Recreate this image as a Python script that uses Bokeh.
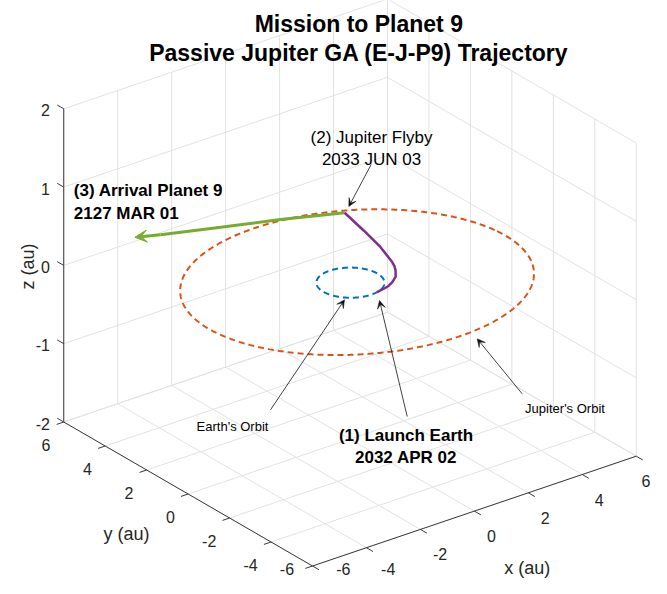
import numpy as np
from bokeh.plotting import figure
from bokeh.models import Range1d, Arrow, VeeHead
from bokeh.core.properties import value
from bokeh.embed import file_html
from bokeh.resources import INLINE

# ---------------- data (au) ----------------
x_ticks = [-6, -4, -2, 0, 2, 4, 6]
y_ticks = [-6, -4, -2, 0, 2, 4, 6]
z_ticks = [-2, -1, 0, 1, 2]
x_lim = (-6, 6)
y_lim = (-6, 6)
z_lim = (-2, 2)

# orbital elements: a [au], e, inclination [deg], node [deg], perihelion longitude [deg]
earth_orbit = dict(a=1.0, e=0.0167, incl=0.0, node=0.0, peri=102.9)
jupiter_orbit = dict(a=5.2, e=0.04, incl=1.5, node=198.0, peri=142.0)

# Earth -> Jupiter transfer arc (launch ... flyby)
transfer_x = [0.24, 0.54, 0.76, 1.00, 1.31, 1.55, 1.69, 1.81, 2.14, 2.42, 2.69]
transfer_y = [-0.99, -0.93, -0.87, -0.74, -0.50, -0.18, 0.05, 0.32, 1.31, 2.49, 3.76]
transfer_z = [0.0] * 11

# Jupiter -> Planet 9 departure leg (flyby ... direction of arrival)
depart_x = [2.69, 0.92, -0.79, -2.50, -3.20]
depart_y = [3.76, 4.55, 5.21, 5.88, 6.21]
depart_z = [0.0] * 5

title_lines = ["Mission to Planet 9", "Passive Jupiter GA (E-J-P9) Trajectory"]

# ---------------- camera (screen layout of the axes box, in pixels) ----------------
ORIGIN = (349.5, 282.0)
EX = (26.98, -9.15)
EY = (-20.73, -12.0)
EZ = (0.0, -78.3)

W, H = 651, 578


def proj(x, y, z):
    x = np.asarray(x, float); y = np.asarray(y, float); z = np.asarray(z, float)
    X = ORIGIN[0] + x * EX[0] + y * EY[0] + z * EZ[0]
    Y = ORIGIN[1] + x * EX[1] + y * EY[1] + z * EZ[1]
    return X, Y


def orbit_xyz(a, e, incl, node, peri, n=721):
    th = np.radians(np.linspace(0, 360, n))
    r = a * (1 - e ** 2) / (1 + e * np.cos(th - np.radians(peri)))
    x = r * np.cos(th)
    y = r * np.sin(th)
    z = r * np.tan(np.radians(incl)) * np.sin(th - np.radians(node))
    return x, y, z


FONT = "Liberation Sans"
TXT = "#262626"
GRID = "#e2e2e2"
AXC = "#3a3a3a"
BLUE = "#0072BD"
ORANGE = "#D95319"
PURPLE = "#7E2F8E"
GREEN = "#77AC30"

p = figure(width=W, height=H, x_range=Range1d(0, W), y_range=Range1d(H, 0),
           output_backend="svg", toolbar_location=None, min_border=0,
           x_axis_location=None, y_axis_location=None)
p.outline_line_color = None
p.background_fill_color = "white"
p.border_fill_color = "white"
for g in p.grid:
    g.visible = False

# ---------------- grid on floor and back walls ----------------
segs = []
x0, x1 = x_lim; y0, y1 = y_lim; z0, z1 = z_lim
for xv in x_ticks:
    segs.append(((xv, y0, z0), (xv, y1, z0)))
    segs.append(((xv, y1, z0), (xv, y1, z1)))
for yv in y_ticks:
    segs.append(((x0, yv, z0), (x1, yv, z0)))
    segs.append(((x1, yv, z0), (x1, yv, z1)))
for zv in z_ticks:
    segs.append(((x0, y1, zv), (x1, y1, zv)))
    segs.append(((x1, y0, zv), (x1, y1, zv)))
xs, ys = [], []
for a, b in segs:
    X, Y = proj([a[0], b[0]], [a[1], b[1]], [a[2], b[2]])
    xs.append(list(X)); ys.append(list(Y))
p.multi_line(xs, ys, line_color=GRID, line_width=1)

# ---------------- axis lines ----------------
axes = [((x0, y0, z0), (x1, y0, z0)), ((x0, y0, z0), (x0, y1, z0)), ((x0, y1, z0), (x0, y1, z1))]
xs, ys = [], []
for a, b in axes:
    X, Y = proj([a[0], b[0]], [a[1], b[1]], [a[2], b[2]])
    xs.append(list(X)); ys.append(list(Y))
p.multi_line(xs, ys, line_color=AXC, line_width=1)


def unit(v):
    v = np.asarray(v, float)
    return v / np.hypot(*v)


TL = 7.5
ux = unit((-EY[0], -EY[1]))   # x ticks point toward -y
uy = unit((-EX[0], -EX[1]))   # y ticks point toward -x
uz = unit(EY)                 # z ticks point toward +y
txs, tys = [], []
for xv in x_ticks:
    X, Y = proj(xv, y0, z0)
    txs.append([float(X), float(X + TL * ux[0])]); tys.append([float(Y), float(Y + TL * ux[1])])
for yv in y_ticks:
    X, Y = proj(x0, yv, z0)
    txs.append([float(X), float(X + TL * uy[0])]); tys.append([float(Y), float(Y + TL * uy[1])])
for zv in z_ticks:
    X, Y = proj(x0, y1, zv)
    txs.append([float(X), float(X + TL * uz[0])]); tys.append([float(Y), float(Y + TL * uz[1])])
p.multi_line(txs, tys, line_color=AXC, line_width=1)


def label(x, y, txt, size, align="center", bold=False, color=TXT, angle=0.0, baseline="alphabetic"):
    p.text(x=[x], y=[y], text=[txt], text_font=value(FONT), text_font_size=value(f"{size}px"),
           text_font_style=value("bold" if bold else "normal"), text_align=value(align),
           text_baseline=value(baseline), text_color=value(color), angle=angle)


LOW = 568.0  # lowest baseline that keeps a tick label clear of the canvas edge

# x tick labels (left-aligned below-right of the axis)
for xv in x_ticks:
    X, Y = proj(xv, y0, z0)
    bx, by = float(X) + 12.5, float(Y) + 25.0
    if by > LOW:
        bx += (by - LOW) * 0.5   # keep the lifted label clear of the x-axis line
        by = LOW
    label(min(bx, W - 10.0), by, f"{xv}", 16, align="left")
# y tick labels (right-aligned below-left of the axis)
for yv in y_ticks:
    X, Y = proj(x0, yv, z0)
    bx, by = float(X) - 13.3, float(Y) + 23.2
    if by > LOW:
        bx -= (by - LOW) * 0.25
        by = LOW
    label(bx, by, f"{yv}", 16, align="right")
# z tick labels
for zv in z_ticks:
    X, Y = proj(x0, y1, zv)
    label(49.5, float(Y) + 1.5, f"{zv}", 16, align="right")

# axis titles
label(526.7, 567.0, "x (au)", 18)
label(126.0, 533.5, "y (au)", 18)
label(27.5, 266.0, "z (au)", 18, angle=np.pi / 2)

# ---------------- orbits and trajectory ----------------
ex_, ey_, ez_ = orbit_xyz(**earth_orbit)
X, Y = proj(ex_, ey_, ez_)
p.line(X, Y, line_color=BLUE, line_width=2, line_dash="6 4")

jx, jy, jz = orbit_xyz(**jupiter_orbit)
X, Y = proj(jx, jy, jz)
p.line(X, Y, line_color=ORANGE, line_width=2, line_dash="6 4")

X, Y = proj(depart_x, depart_y, depart_z)
p.line(X[:-1], Y[:-1], line_color=GREEN, line_width=3)
p.add_layout(Arrow(x_start=float(X[-2]), y_start=float(Y[-2]), x_end=float(X[-1]), y_end=float(Y[-1]),
                   line_color=GREEN, line_width=3,
                   end=VeeHead(size=12, fill_color=GREEN, line_color=GREEN, line_width=1)))

X, Y = proj(transfer_x, transfer_y, transfer_z)
p.line(X, Y, line_color=PURPLE, line_width=2.5)


# ---------------- annotations ----------------
def pointer(xs_, ys_, xe, ye):
    p.add_layout(Arrow(x_start=xs_, y_start=ys_, x_end=xe, y_end=ye, line_color="#111111", line_width=0.8,
                       end=VeeHead(size=8, fill_color="#111111", line_color="#111111", line_width=0.5)))


pointer(370.7, 164.0, 348.3, 206.0)
pointer(270.0, 409.3, 344.0, 299.3)
pointer(406.7, 416.0, 379.0, 300.0)
pointer(521.7, 393.3, 476.7, 338.3)

label(371.0, 137.0, "(2) Jupiter Flyby", 17, color="black")
label(371.0, 159.0, "2033 JUN 03", 17, color="black")
label(73.3, 190.0, "(3) Arrival Planet 9", 17, align="left", bold=True, color="black")
label(73.3, 212.5, "2127 MAR 01", 17, align="left", bold=True, color="black")
label(405.5, 434.5, "(1) Launch Earth", 17, bold=True, color="black")
label(405.5, 456.7, "2032 APR 02", 17, bold=True, color="black")
label(232.0, 425.5, "Earth's Orbit", 13, color="black")
label(564.5, 408.0, "Jupiter's Orbit", 13, color="black")

# ---------------- title ----------------
label(358.3, 23.5, title_lines[0], 23, bold=True, color="black")
label(358.3, 52.0, title_lines[1], 23, bold=True, color="black")

open("out.html", "w").write(file_html(p, INLINE))
